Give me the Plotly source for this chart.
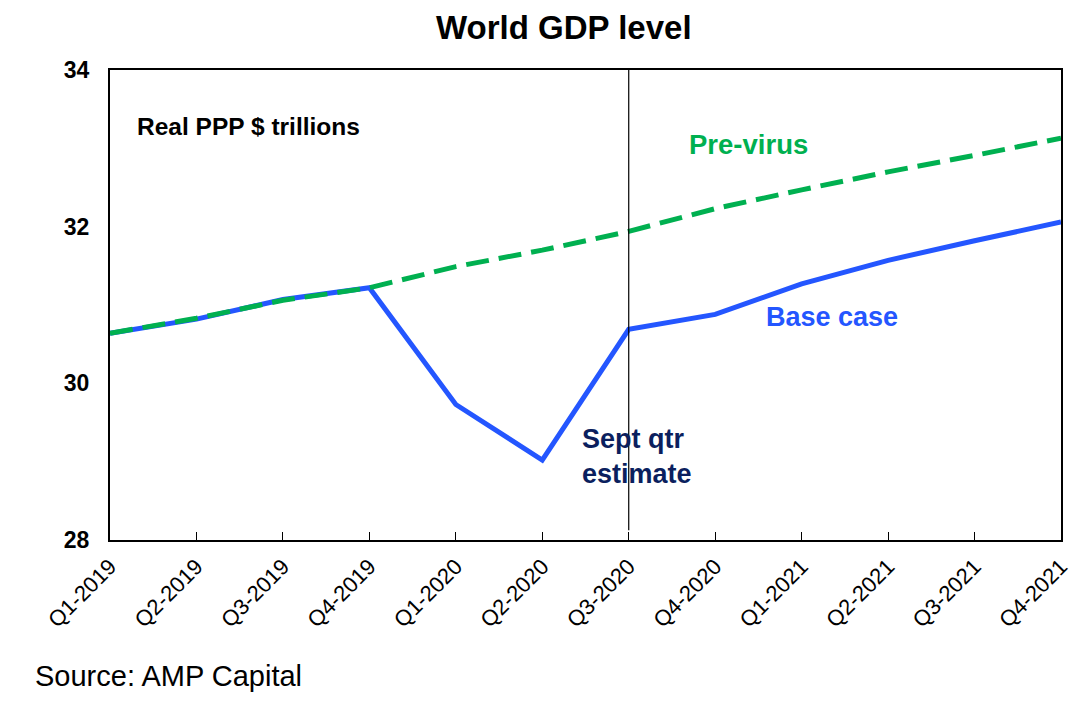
import plotly.graph_objects as go

quarters = ['Q1-2019', 'Q2-2019', 'Q3-2019', 'Q4-2019', 'Q1-2020', 'Q2-2020',
            'Q3-2020', 'Q4-2020', 'Q1-2021', 'Q2-2021', 'Q3-2021', 'Q4-2021']
baseCase = [30.64, 30.82, 31.07, 31.22, 29.73, 29.02,
            30.69, 30.88, 31.27, 31.57, 31.82, 32.06]
preVirus = [30.64, 30.83, 31.06, 31.22, 31.49, 31.70,
            31.94, 32.23, 32.47, 32.70, 32.91, 33.13]
yTicks = [28, 30, 32, 34]

blue = '#2456FF'
green = '#00B050'
navy = '#0B1F5E'

fig = go.Figure()
fig.add_trace(go.Scatter(x=quarters, y=baseCase, mode='lines', name='Base case',
                         line=dict(color=blue, width=5)))
fig.add_trace(go.Scatter(x=quarters, y=preVirus, mode='lines', name='Pre-virus',
                         line=dict(color=green, width=5, dash='23px,10px')))

# vertical marker at the Sept qtr estimate
fig.add_shape(type='line', xref='x', yref='paper', x0='Q3-2020', x1='Q3-2020',
              y0=0.021, y1=1.004, line=dict(color='black', width=1.2))

fig.add_annotation(x=0.026, y=0.913, xref='paper', yref='paper', xanchor='left',
                   text='<b>Real PPP $ trillions</b>', showarrow=False,
                   font=dict(size=24.5, color='black'))
fig.add_annotation(x=7.38, y=33.05, xanchor='center', text='<b>Pre-virus</b>',
                   showarrow=False, font=dict(size=27.5, color=green))
fig.add_annotation(x=8.35, y=30.85, xanchor='center', text='<b>Base case</b>',
                   showarrow=False, font=dict(size=27, color=blue))
fig.add_annotation(x=5.44, y=29.06, xanchor='left', yanchor='middle', align='left',
                   text='<b>Sept qtr<br>estimate</b>', showarrow=False,
                   font=dict(size=27, color=navy))
fig.add_annotation(x=-0.081, y=-0.289, xref='paper', yref='paper', xanchor='left',
                   yanchor='middle', text='Source: AMP Capital', showarrow=False,
                   font=dict(size=29, color='black'))

fig.update_layout(
    width=1092, height=705,
    title=dict(text='<b>World GDP level</b>', x=0.509, xanchor='center',
               yref='container', y=0.972, yanchor='middle',
               font=dict(size=33, color='black')),
    font=dict(family='Liberation Sans, Arial', color='black'),
    plot_bgcolor='white', paper_bgcolor='white',
    margin=dict(l=102, r=39, t=62, b=173, autoexpand=False),
    showlegend=False,
)
fig.update_xaxes(type='category', range=[0, 11], showgrid=False, automargin=False,
                 showline=True, linecolor='black', linewidth=2, mirror=True,
                 ticks='inside', ticklen=8, tickcolor='black', tickwidth=1.2,
                 tickangle=-45, tickfont=dict(size=22), ticklabelstandoff=3)
fig.update_yaxes(range=[28, 34], tickvals=yTicks, showgrid=False, zeroline=False,
                 automargin=False,
                 showline=True, linecolor='black', linewidth=2, mirror=True,
                 ticks='', tickfont=dict(size=23), ticklabelstandoff=14,
                 ticktext=['<b>%d</b>' % v for v in yTicks])

fig.write_html("out.html")
